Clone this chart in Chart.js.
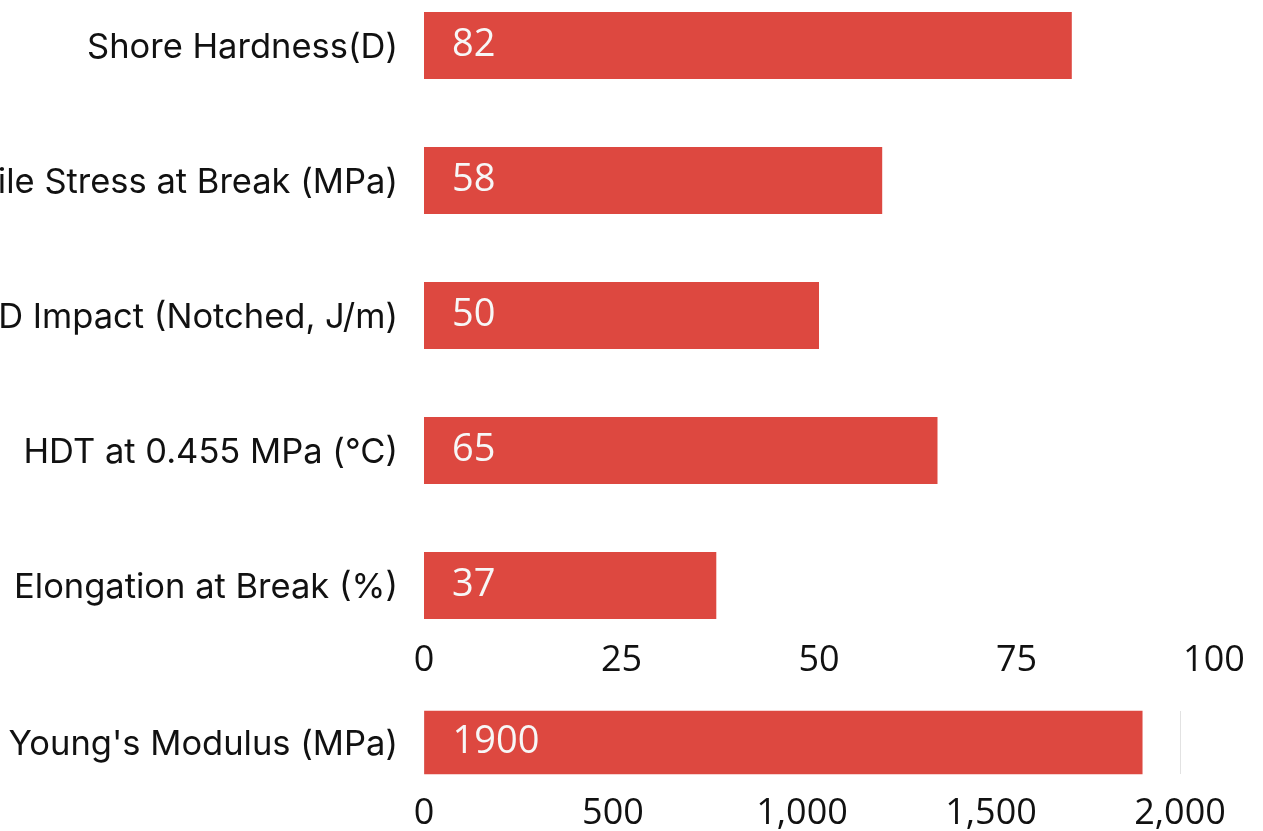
<!DOCTYPE html>
<html>
<head>
<meta charset="utf-8">
<script src="https://cdn.jsdelivr.net/npm/chart.js@4.4.1/dist/chart.umd.min.js"></script>
<style>
    html, body { margin: 0; padding: 0; background: #fff; overflow: hidden; }
    body { width: 1263px; height: 831px; position: relative; }
    #topWrap { position: absolute; left: 0; top: 0; width: 1263px; height: 700px; }
    #bottomWrap { position: absolute; left: 0; top: 690px; width: 1263px; height: 141px; }
</style>
</head>
<body>
<div id="topWrap"><canvas id="propertyChart"></canvas></div>
<div id="bottomWrap"><canvas id="modulusChart"></canvas></div>
<script>
// Mechanical / thermal properties (scale 0 - 100)
const propertyLabels = [
    'Shore Hardness(D)',
    'Tensile Stress at Break (MPa)',
    'IZOD Impact (Notched, J/m)',
    'HDT at 0.455 MPa (°C)',
    'Elongation at Break (%)'
];
const propertyValues = [82, 58, 50, 65, 37];
const propertyTicks = [0, 25, 50, 75, 100];

// Young's modulus (scale 0 - 2000)
const modulusLabels = ["Young's Modulus (MPa)"];
const modulusValues = [1900];
const modulusTicks = [0, 500, 1000, 1500, 2000];

const barColor = '#dd4840';
const labelFont = { family: 'Inter', size: 34.5 };
const tickFont = { family: 'Open Sans', size: 36 };

// draws the white value inside each bar, near its start
const valueLabels = {
    id: 'valueLabels',
    afterDatasetsDraw(chart) {
        const ctx = chart.ctx;
        ctx.save();
        ctx.font = '38px "Open Sans"';
        ctx.fillStyle = '#f7f7f7';
        ctx.textAlign = 'left';
        ctx.textBaseline = 'middle';
        chart.getDatasetMeta(0).data.forEach((bar, i) => {
            ctx.fillText(String(chart.data.datasets[0].data[i]), bar.base + 28, bar.y);
        });
        ctx.restore();
    }
};

function makeChart(id, labels, values, ticks, opts) {
    const ctx = document.getElementById(id).getContext('2d');
    return new Chart(ctx, {
        type: 'bar',
        data: {
            labels: labels,
            datasets: [{
                data: values,
                backgroundColor: barColor,
                borderWidth: 0,
                clip: false,
                barPercentage: opts.barPercentage,
                categoryPercentage: 1
            }]
        },
        options: {
            indexAxis: 'y',
            responsive: true,
            maintainAspectRatio: false,
            animation: false,
            layout: { padding: opts.padding },
            plugins: {
                legend: { display: false },
                tooltip: { enabled: false }
            },
            scales: {
                x: {
                    min: ticks[0],
                    max: ticks[ticks.length - 1],
                    afterBuildTicks: scale => { scale.ticks = ticks.map(v => ({ value: v })); },
                    afterFit: scale => {
                        scale.height = opts.xHeight;
                        scale.paddingLeft = 0;
                        scale.paddingRight = 0;
                    },
                    grid: { display: opts.grid, color: '#e2e2e2', drawTicks: false },
                    border: { display: false },
                    ticks: {
                        font: tickFont,
                        color: '#111',
                        padding: opts.tickPadding,
                        maxRotation: 0
                    }
                },
                y: {
                    offset: opts.offset,
                    afterFit: scale => {
                        scale.width = 424;
                        scale.paddingTop = 0;
                        scale.paddingBottom = 0;
                    },
                    grid: { display: false, drawTicks: false },
                    border: { display: false },
                    ticks: { font: labelFont, color: '#111', padding: 26, labelOffset: 2 }
                }
            }
        },
        plugins: [valueLabels]
    });
}

makeChart('propertyChart', propertyLabels, propertyValues, propertyTicks, {
    offset: false,
    barPercentage: 67 / 135,
    padding: { top: 45.5, right: 49, bottom: 0, left: 0 },
    xHeight: 114.5,
    grid: false,
    tickPadding: 54
});

makeChart('modulusChart', modulusLabels, modulusValues, modulusTicks, {
    offset: true,
    barPercentage: 1,
    padding: { top: 21, right: 83, bottom: 0, left: 0 },
    xHeight: 57,
    grid: true,
    tickPadding: 18
});
</script>
</body>
</html>
